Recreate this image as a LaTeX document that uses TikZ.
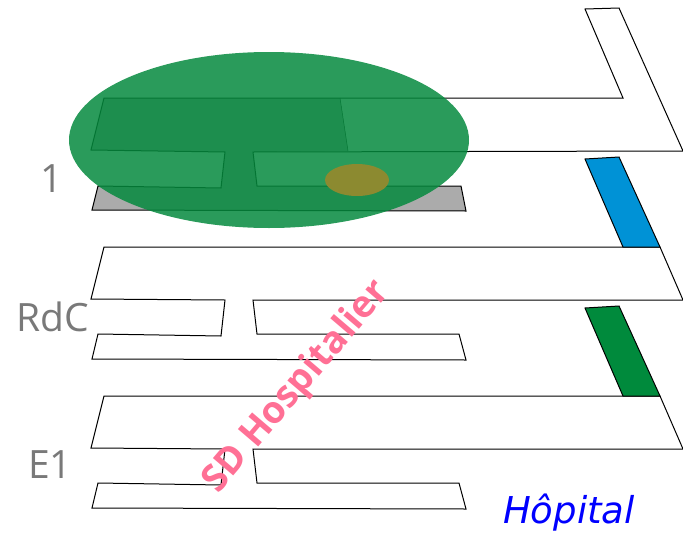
\documentclass[tikz,border=0pt]{standalone}
\usepackage{fontspec}
\setmainfont{Open Sans}
\newfontfamily\dejavu{DejaVu Sans}
\definecolor{zoneg}{RGB}{5,138,62}
\definecolor{olive}{RGB}{140,138,48}
\definecolor{stairb}{RGB}{0,146,214}
\definecolor{stairg}{RGB}{0,138,60}
\definecolor{wm}{RGB}{255,112,149}
\tikzset{
  wall/.style={draw=black,line width=1pt,line join=miter},
  flr/.style={text=gray!95!black,font=\fontsize{39}{39}\selectfont,inner sep=0pt},
  stairbox/.style={draw=black,line width=1pt}
}
\begin{document}
\begin{tikzpicture}[x=1pt,y=-1pt]
\useasboundingbox (0,0) rectangle (683,533);
% floor 1
\fill[black!33] (104,98) -- (340,98) -- (348,151) -- (253,152) -- (257,186) -- (461,186) -- (466,211) -- (92,210) -- (98,186) -- (221,188) -- (225,152) -- (91,150) -- cycle;
\draw[wall] (104,98) -- (623,98) -- (585,9) -- (619,8) -- (683,151) -- (253,152) -- (257,186) -- (461,186) -- (466,211) -- (92,210) -- (98,186) -- (221,188) -- (225,152) -- (91,150) -- cycle;
\draw[wall,line width=0.5pt] (340,98) -- (348,151);
% RdC
\draw[wall] (104,247) -- (623,247) -- (660,247) -- (683,300) -- (253,300) -- (257,334) -- (459,334) -- (466,360) -- (92,359) -- (98,334) -- (221,336) -- (225,300) -- (91,299) -- cycle;
\draw[stairbox,fill=stairb] (623,247) -- (585,159) -- (619,157) -- (660,247) -- cycle;
% E1
\draw[wall] (104,396) -- (623,396) -- (660,396) -- (683,449) -- (253,449) -- (257,483) -- (459,483) -- (466,509) -- (92,508) -- (98,483) -- (221,485) -- (225,449) -- (91,448) -- cycle;
\draw[stairbox,fill=stairg] (623,396) -- (585,308) -- (619,306) -- (660,396) -- cycle;
% zones
\fill[zoneg,fill opacity=0.85] (269,140) ellipse [x radius=200,y radius=88];
\fill[olive] (357,180) ellipse [x radius=32,y radius=16];
% labels
\node[flr] (lone) at (52,179) {1};
\node[flr] (lrdc) at (53,317) {RdC};
\node[flr] (le) at (50,465) {E1};
\node[text=blue,inner sep=0pt,font=\dejavu\itshape\fontsize{37}{37}\selectfont] (hop) at (569,513) {Hôpital};
\node[text=wm,inner sep=0pt,rotate=49.5,font=\bfseries\fontsize{37.5}{37.5}\selectfont] (sd) at (297,387) {SD Hospitalier};
\end{tikzpicture}
\end{document}
